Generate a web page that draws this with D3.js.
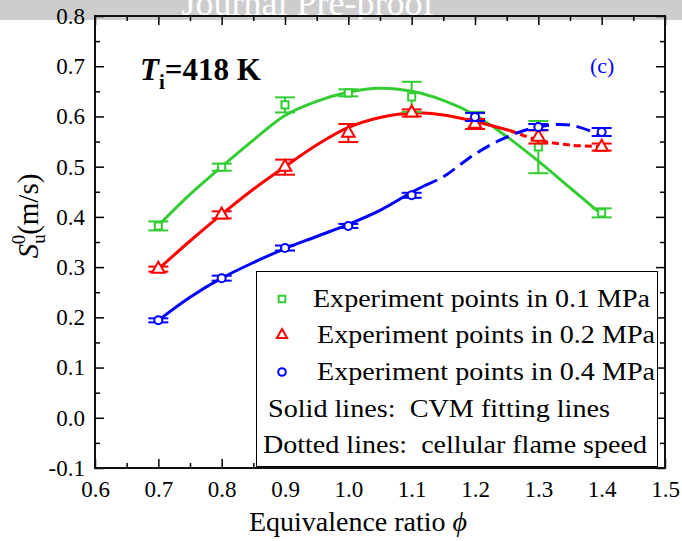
<!DOCTYPE html>
<html>
<head>
<meta charset="utf-8">
<script src="https://cdn.jsdelivr.net/npm/d3@7"></script>
<style>
  body { margin: 0; background: #fff; }
  svg { display: block; }
  text { font-family: "Liberation Serif", "Times New Roman", serif; }
</style>
</head>
<body>
<svg id="chart" width="682" height="541"></svg>
<script>
// measured points (phi, S_u0 in m/s, error half-width)
var phi = [0.7, 0.8, 0.9, 1.0, 1.1, 1.2, 1.3, 1.4];
var s01 = [0.382, 0.499, 0.623, 0.647, 0.639, 0.601, 0.539, 0.408];
var e01 = [0.009, 0.007, 0.015, 0.007, 0.030, 0.008, 0.052, 0.009];
var s02 = [0.296, 0.404, 0.499, 0.567, 0.607, 0.585, 0.559, 0.539];
var e02 = [0.005, 0.007, 0.015, 0.018, 0.007, 0.010, 0.013, 0.007];
var s04 = [0.194, 0.278, 0.338, 0.382, 0.443, 0.599, 0.579, 0.569];
var e04 = [0.004, 0.005, 0.005, 0.004, 0.005, 0.008, 0.006, 0.008];

// CVM fitting lines (solid)
var fitPhi01 = [0.70, 0.75, 0.80, 0.85, 0.90, 0.95, 1.00, 1.05, 1.10, 1.15, 1.20, 1.25, 1.30, 1.35, 1.40];
var fit01    = [0.383, 0.445, 0.500, 0.553, 0.602, 0.630, 0.648, 0.656, 0.650, 0.632, 0.603, 0.560, 0.511, 0.458, 0.405];
var fitPhi02 = [0.70, 0.75, 0.80, 0.85, 0.90, 0.95, 1.00, 1.05, 1.10, 1.15, 1.20, 1.255];
var fit02    = [0.296, 0.352, 0.405, 0.455, 0.500, 0.543, 0.578, 0.598, 0.607, 0.603, 0.590, 0.572];
var fitPhi04 = [0.70, 0.75, 0.80, 0.85, 0.90, 0.95, 1.00, 1.05, 1.10, 1.12];
var fit04    = [0.194, 0.240, 0.278, 0.309, 0.337, 0.361, 0.385, 0.413, 0.449, 0.462];

// cellular flame speed (dashed)
var cellPhi02 = [1.255, 1.30, 1.35, 1.40];
var cell02    = [0.572, 0.553, 0.543, 0.540];
var cellPhi04 = [1.12, 1.15, 1.20, 1.25, 1.30, 1.35, 1.40];
var cell04    = [0.462, 0.480, 0.525, 0.559, 0.579, 0.583, 0.562];

var xTicks = [0.6, 0.7, 0.8, 0.9, 1.0, 1.1, 1.2, 1.3, 1.4, 1.5];
var yTicks = [-0.1, 0.0, 0.1, 0.2, 0.3, 0.4, 0.5, 0.6, 0.7, 0.8];

var legendLabels = [
  "Experiment points in 0.1 MPa",
  "Experiment points in 0.2 MPa",
  "Experiment points in 0.4 MPa",
  "Solid lines:  CVM fitting lines",
  "Dotted lines:  cellular flame speed"
];

var green = "#33cc33", red = "#ff0000", blue = "#0000ff";

var svg = d3.select("#chart");

// pre-proof banner behind the chart
svg.append("rect").attr("x", 0).attr("y", 0).attr("width", 682).attr("height", 20).attr("fill", "#cdcdcd");
svg.append("text")
  .attr("x", 308).attr("y", 15)
  .attr("text-anchor", "middle")
  .attr("fill", "#fff")
  .style("font-size", "36px")
  .text("Journal Pre-proof");

var x = d3.scaleLinear().domain([0.6, 1.5]).range([95, 665]);
var y = d3.scaleLinear().domain([-0.1, 0.8]).range([468, 16]);

var xMinor = d3.range(0.65, 1.5, 0.1);
var yMinor = d3.range(-0.05, 0.8, 0.1);

function styleAxis(g) {
  g.select(".domain").remove();
  g.selectAll(".tick line").attr("stroke", "#000").attr("stroke-width", 1.5);
  g.selectAll(".tick text")
    .attr("fill", "#000")
    .style("font-size", "23px")
    .style("font-family", "'Liberation Serif', 'Times New Roman', serif");
}

// plain hyphen for negatives, like the original
var fmt = function(d) { return (Math.abs(d) < 1e-9 ? 0 : d).toFixed(1); };

svg.append("g").attr("transform", "translate(0,468)")
  .call(d3.axisBottom(x).tickValues(xTicks).tickFormat(fmt).tickSize(-9).tickPadding(13))
  .call(styleAxis);
svg.append("g").attr("transform", "translate(0,468)")
  .call(d3.axisBottom(x).tickValues(xMinor).tickFormat("").tickSize(-5))
  .call(styleAxis);
svg.append("g").attr("transform", "translate(0,16)")
  .call(d3.axisTop(x).tickValues(xTicks).tickFormat("").tickSize(-9))
  .call(styleAxis);
svg.append("g").attr("transform", "translate(0,16)")
  .call(d3.axisTop(x).tickValues(xMinor).tickFormat("").tickSize(-5))
  .call(styleAxis);

svg.append("g").attr("transform", "translate(95,0)")
  .call(d3.axisLeft(y).tickValues(yTicks).tickFormat(fmt).tickSize(-9).tickPadding(10))
  .call(styleAxis);
svg.append("g").attr("transform", "translate(95,0)")
  .call(d3.axisLeft(y).tickValues(yMinor).tickFormat("").tickSize(-5))
  .call(styleAxis);
svg.append("g").attr("transform", "translate(665,0)")
  .call(d3.axisRight(y).tickValues(yTicks).tickFormat("").tickSize(-9))
  .call(styleAxis);
svg.append("g").attr("transform", "translate(665,0)")
  .call(d3.axisRight(y).tickValues(yMinor).tickFormat("").tickSize(-5))
  .call(styleAxis);

// curves
var line = d3.line()
  .x(function(d) { return x(d[0]); })
  .y(function(d) { return y(d[1]); })
  .curve(d3.curveCatmullRom);

function drawLine(px, py, color, dash) {
  svg.append("path")
    .datum(d3.zip(px, py))
    .attr("fill", "none")
    .attr("stroke", color)
    .attr("stroke-width", 3)
    .attr("stroke-dasharray", dash)
    .attr("d", line);
}

drawLine(fitPhi01, fit01, green, null);
drawLine(fitPhi02, fit02, red, null);
drawLine(cellPhi02, cell02, red, "7,4");
drawLine(fitPhi04, fit04, blue, null);
drawLine(cellPhi04, cell04, blue, "14,7");

// error bars and markers
var sym = {
  square: d3.symbol().type(d3.symbolSquare).size(50),
  triangle: d3.symbol().type(d3.symbolTriangle).size(70),
  circle: d3.symbol().type(d3.symbolCircle).size(50)
};

function drawPoints(vals, errs, color, shape) {
  var rows = d3.zip(phi, vals, errs);
  var g = svg.append("g").attr("stroke", color).attr("stroke-width", 2).attr("fill", "none");
  rows.forEach(function(d) {
    var cx = x(d[0]), lo = y(d[1] - d[2]), hi = y(d[1] + d[2]);
    g.append("line").attr("x1", cx).attr("x2", cx).attr("y1", lo).attr("y2", hi);
    g.append("line").attr("x1", cx - 10).attr("x2", cx + 10).attr("y1", lo).attr("y2", lo);
    g.append("line").attr("x1", cx - 10).attr("x2", cx + 10).attr("y1", hi).attr("y2", hi);
    g.append("path")
      .attr("d", sym[shape]())
      .attr("fill", "#fff")
      .attr("transform", "translate(" + cx + "," + y(d[1]) + ")");
  });
}

drawPoints(s01, e01, green, "square");
drawPoints(s02, e02, red, "triangle");
drawPoints(s04, e04, blue, "circle");

// frame
svg.append("rect")
  .attr("x", 95).attr("y", 16).attr("width", 570).attr("height", 452)
  .attr("fill", "none").attr("stroke", "#111").attr("stroke-width", 2);

// legend
var lg = svg.append("g");
lg.append("rect")
  .attr("x", 256.5).attr("y", 271.5).attr("width", 401).attr("height", 195)
  .attr("fill", "#fff").attr("stroke", "#000").attr("stroke-width", 1);

var legendX = [313, 317, 317, 268, 263];
var legendW = [337, 338, 338, 342, 384];
var legendY = [307, 343, 380, 417, 453];
lg.selectAll("text.lab")
  .data(legendLabels)
  .enter().append("text")
  .attr("class", "lab")
  .attr("x", function(d, i) { return legendX[i]; })
  .attr("y", function(d, i) { return legendY[i]; })
  .attr("textLength", function(d, i) { return legendW[i]; })
  .attr("lengthAdjust", "spacingAndGlyphs")
  .style("white-space", "pre")
  .style("font-size", "25px")
  .text(function(d) { return d; });

var legendMarks = [[green, d3.symbolSquare], [red, d3.symbolTriangle], [blue, d3.symbolCircle]];
legendMarks.forEach(function(m, i) {
  lg.append("path")
    .attr("d", d3.symbol().type(m[1]).size(45)())
    .attr("fill", "none").attr("stroke", m[0]).attr("stroke-width", 2)
    .attr("transform", "translate(282," + (legendY[i] - 8) + ")");
});

// axis titles
var xt = svg.append("text")
  .attr("x", 358).attr("y", 531)
  .attr("text-anchor", "middle")
  .style("font-size", "28px");
xt.append("tspan").text("Equivalence ratio ");
xt.append("tspan").style("font-style", "italic").text("\u03d5");

var yt = svg.append("text")
  .attr("transform", "translate(38,216) rotate(-90)")
  .attr("text-anchor", "middle")
  .style("font-size", "29px");
yt.append("tspan").style("font-style", "italic").text("S");
yt.append("tspan").attr("dy", 7).style("font-size", "19px").text("u");
yt.append("tspan").attr("dx", -10).attr("dy", -20).style("font-size", "19px").text("0");
yt.append("tspan").attr("dy", 13).text("(m/s)");

// annotations
var ti = svg.append("text")
  .attr("x", 140).attr("y", 80)
  .style("font-size", "31px").style("font-weight", "bold");
ti.append("tspan").style("font-style", "italic").text("T");
ti.append("tspan").attr("dy", 9).style("font-size", "21px").text("i");
ti.append("tspan").attr("dy", -9).text("=418 K");

svg.append("text")
  .attr("x", 590).attr("y", 73)
  .attr("fill", blue)
  .style("font-size", "22px")
  .text("(c)");
</script>
</body>
</html>
